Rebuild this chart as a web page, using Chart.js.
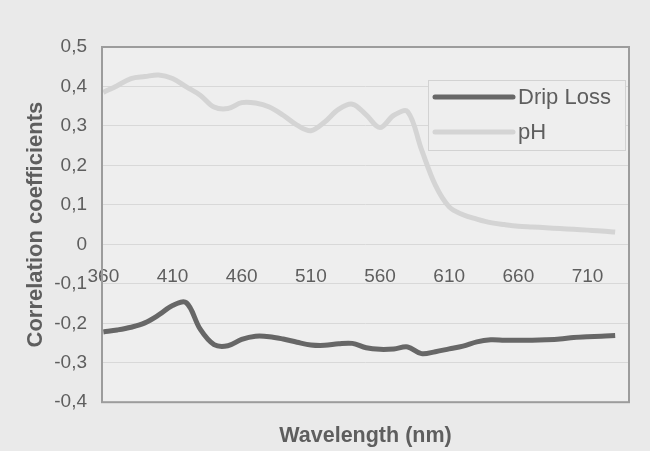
<!DOCTYPE html>
<html>
<head>
<meta charset="utf-8">
<script src="https://cdn.jsdelivr.net/npm/chart.js@4/dist/chart.umd.min.js"></script>
<style>
  body { margin: 0; background: #eaeaea; }
  canvas { display: block; }
</style>
</head>
<body>
<canvas id="myChart" width="650" height="451"></canvas>
<script>
// wavelengths (nm) and the two correlation curves
const wavelengths = [360, 370, 380, 390, 400, 410, 420, 430, 440, 450,
                     460, 470, 480, 490, 500, 510, 520, 530, 540, 550,
                     560, 570, 580, 590, 600, 610, 620, 630, 640, 650,
                     660, 670, 680, 690, 700, 710, 720, 730];
const dripLoss = [-0.222, -0.217, -0.210, -0.199, -0.179, -0.155, -0.148, -0.215, -0.254, -0.257,
                  -0.241, -0.233, -0.234, -0.240, -0.248, -0.255, -0.256, -0.252, -0.251, -0.262,
                  -0.266, -0.265, -0.260, -0.277, -0.272, -0.265, -0.258, -0.247, -0.242, -0.243,
                  -0.243, -0.243, -0.242, -0.240, -0.236, -0.234, -0.233, -0.231];
const pH = [0.385, 0.402, 0.420, 0.425, 0.429, 0.420, 0.399, 0.378, 0.348, 0.344,
            0.359, 0.358, 0.348, 0.327, 0.302, 0.288, 0.310, 0.342, 0.355, 0.328,
            0.296, 0.327, 0.336, 0.240, 0.150, 0.095, 0.075, 0.064, 0.055, 0.050,
            0.046, 0.044, 0.042, 0.040, 0.038, 0.036, 0.034, 0.031];
const xTicks = [360, 410, 460, 510, 560, 610, 660, 710];
const yTicks = [-0.4, -0.3, -0.2, -0.1, 0, 0.1, 0.2, 0.3, 0.4, 0.5];

const textColor = '#5e5e5e';

// plot background, frame and boxed legend like the excel chart
const frame = {
    id: 'frame',
    beforeDraw(chart) {
        const a = chart.chartArea, c = chart.ctx;
        c.save();
        c.fillStyle = '#eeeeee';
        c.fillRect(a.left, a.top, a.right - a.left, a.bottom - a.top);
        c.restore();
    },
    afterDraw(chart) {
        const a = chart.chartArea, c = chart.ctx;
        c.save();
        c.strokeStyle = '#9c9c9c';
        c.lineWidth = 2;
        c.strokeRect(a.left, a.top, a.right - a.left, a.bottom - a.top);
        // legend
        const lx = a.right - 201, ly = a.top + 33;
        c.fillStyle = '#eeeeee';
        c.fillRect(lx, ly, 197, 70);
        c.strokeStyle = '#d2d2d2';
        c.lineWidth = 1;
        c.strokeRect(lx + 0.5, ly + 0.5, 197, 70);
        c.font = '22px "Liberation Sans", Arial, sans-serif';
        c.textBaseline = 'middle';
        chart.data.datasets.forEach((ds, i) => {
            const y = ly + 17 + i * 35;
            c.strokeStyle = ds.borderColor;
            c.lineWidth = ds.borderWidth;
            c.lineCap = 'round';
            c.beginPath();
            c.moveTo(lx + 7, y);
            c.lineTo(lx + 85, y);
            c.stroke();
            c.fillStyle = textColor;
            c.fillText(ds.label, lx + 90, y + 1);
        });
        c.restore();
    }
};

const ctx = document.getElementById('myChart').getContext('2d');
const myChart = new Chart(ctx, {
    type: 'line',
    data: {
        datasets: [{
            label: 'Drip Loss',
            data: wavelengths.map((w, i) => ({x: w, y: dripLoss[i]})),
            borderColor: '#676767',
            borderWidth: 5,
            pointRadius: 0,
            tension: 0.35
        }, {
            label: 'pH',
            data: wavelengths.map((w, i) => ({x: w, y: pH[i]})),
            borderColor: '#d4d4d4',
            borderWidth: 5,
            pointRadius: 0,
            tension: 0.35
        }]
    },
    options: {
        responsive: false,
        animation: false,
        layout: { padding: { top: 47, right: 21, bottom: 0, left: 0 } },
        plugins: {
            legend: { display: false },
            tooltip: { enabled: false }
        },
        scales: {
            x: {
                type: 'linear',
                position: { y: 0 },
                min: 359,
                max: 740,
                afterBuildTicks: s => { s.ticks = xTicks.map(v => ({value: v})); },
                grid: { display: false, drawTicks: false },
                border: { display: false },
                ticks: {
                    color: textColor,
                    padding: 21,
                    maxRotation: 0,
                    font: { family: '"Liberation Sans", Arial, sans-serif', size: 19 }
                }
            },
            xTitle: {
                type: 'linear',
                position: 'bottom',
                grid: { display: false, drawTicks: false },
                border: { display: false },
                ticks: { display: false },
                title: {
                    display: true,
                    text: 'Wavelength (nm)',
                    color: textColor,
                    padding: { top: 21, bottom: 2 },
                    font: { family: '"Liberation Sans", Arial, sans-serif', size: 21.5, weight: 'bold' }
                }
            },
            y: {
                min: -0.4,
                max: 0.5,
                afterBuildTicks: s => { s.ticks = yTicks.map(v => ({value: v})); },
                afterFit: s => { s.width = 102; },
                grid: { color: '#d8d8d8', drawTicks: false },
                border: { display: false },
                ticks: {
                    color: textColor,
                    padding: 15,
                    font: { family: '"Liberation Sans", Arial, sans-serif', size: 19 },
                    callback: v => Math.abs(v) < 1e-9 ? '0' : v.toFixed(1).replace('.', ',')
                },
                title: {
                    display: true,
                    text: 'Correlation coefficients',
                    color: textColor,
                    padding: { top: 23, bottom: 4 },
                    font: { family: '"Liberation Sans", Arial, sans-serif', size: 22, weight: 'bold' }
                }
            }
        }
    },
    plugins: [frame]
});
</script>
</body>
</html>
